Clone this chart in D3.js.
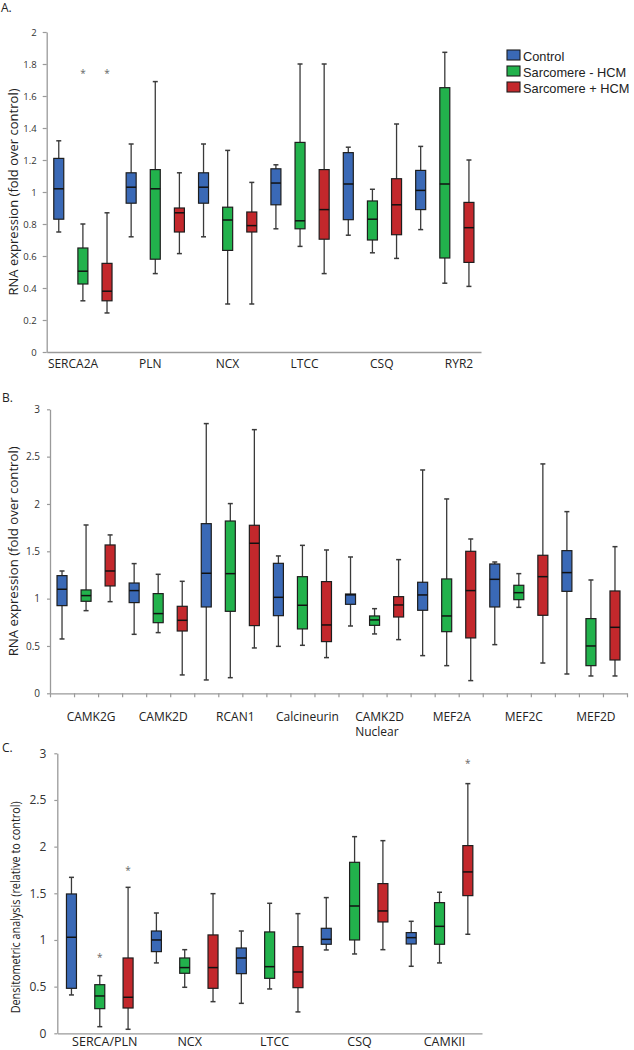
<!DOCTYPE html>
<html><head><meta charset="utf-8">
<script src="https://cdn.jsdelivr.net/npm/d3@7"></script>
<style>body{margin:0;background:#fff}svg{display:block}</style>
</head><body>
<svg id="chart" width="634" height="1050"></svg>
<script>
// ---------- data ----------
const seriesNames = ["Control", "Sarcomere - HCM", "Sarcomere + HCM"];
const seriesColors = ["#3a69b6", "#22b24c", "#c3282c"];

// each entry: [min, q1, median, q3, max]
const aCategories = ["SERCA2A", "PLN", "NCX", "LTCC", "CSQ", "RYR2"];
const aControl = [[0.75,0.83,1.02,1.21,1.32],[0.72,0.93,1.03,1.12,1.30],[0.72,0.93,1.03,1.12,1.30],[0.77,0.92,1.056,1.145,1.17],[0.73,0.827,1.05,1.246,1.28],[0.765,0.89,1.01,1.135,1.285]];
const aSarcNeg = [[0.32,0.425,0.505,0.65,0.80],[0.49,0.58,1.02,1.14,1.69],[0.30,0.635,0.825,0.905,1.26],[0.66,0.77,0.82,1.31,1.80],[0.62,0.70,0.83,0.944,1.017],[0.43,0.5875,1.05,1.652,1.873]];
const aSarcPos = [[0.244,0.32,0.38,0.554,0.87],[0.615,0.75,0.87,0.90,1.12],[0.30,0.75,0.79,0.875,1.06],[0.49,0.705,0.89,1.14,1.80],[0.585,0.733,0.92,1.083,1.425],[0.41,0.56,0.777,0.935,1.20]];
const aStars = [{category:"SERCA2A", series:1, value:1.75},{category:"SERCA2A", series:2, value:1.75}];
const aTicks = [0,0.2,0.4,0.6,0.8,1,1.2,1.4,1.6,1.8,2];

const bCategories = ["CAMK2G", "CAMK2D", "RCAN1", "Calcineurin", "CAMK2D\nNuclear", "MEF2A", "MEF2C", "MEF2D"];
const bControl = [[0.574,0.926,1.099,1.243,1.292],[0.623,0.958,1.085,1.165,1.370],[0.141,0.912,1.268,1.792,2.849],[0.496,0.820,1.014,1.373,1.451],[0.711,0.940,1.04,1.049,1.440],[0.398,0.877,1.039,1.173,2.359],[0.514,0.912,1.204,1.366,1.387],[0.204,1.077,1.275,1.507,1.919]];
const bSarcNeg = [[0.873,0.972,1.032,1.092,1.778],[0.641,0.746,0.842,1.053,1.257],[0.165,0.866,1.264,1.820,2.004],[0.507,0.680,0.930,1.232,1.563],[0.627,0.718,0.775,0.817,0.894],[0.292,0.651,0.817,1.208,2.053],[0.908,0.989,1.063,1.141,1.264],[0.183,0.292,0.500,0.789,1.197]];
const bSarcPos = [[0.968,1.134,1.292,1.567,1.673],[0.194,0.658,0.771,0.919,1.183],[0.479,0.715,1.585,1.775,2.785],[0.377,0.546,0.722,1.180,1.514],[0.567,0.806,0.933,1.021,1.412],[0.134,0.585,1.085,1.500,1.630],[0.320,0.824,1.232,1.458,2.423],[0.183,0.352,0.697,1.081,1.549]];
const bStars = [];
const bTicks = [0,0.5,1,1.5,2,2.5,3];

const cCategories = ["SERCA/PLN", "NCX", "LTCC", "CSQ", "CAMKII"];
const cControl = [[0.411,0.482,1.029,1.493,1.671],[0.754,0.875,1.0,1.096,1.289],[0.321,0.639,0.807,0.914,1.096],[0.893,0.954,1.007,1.125,1.454],[0.718,0.957,1.025,1.079,1.2]];
const cSarcNeg = [[0.071,0.264,0.400,0.521,0.618],[0.493,0.643,0.704,0.807,0.896],[0.475,0.589,0.714,1.086,1.393],[0.85,1.0,1.364,1.832,2.107],[0.754,0.954,1.146,1.4,1.511]];
const cSarcPos = [[0.043,0.271,0.386,0.807,1.564],[0.339,0.482,0.704,1.054,1.496],[0.229,0.489,0.657,0.929,1.282],[0.896,1.193,1.311,1.604,2.064],[1.061,1.475,1.729,2.011,2.675]];
const cStars = [{category:"SERCA/PLN", series:1, value:0.821},{category:"SERCA/PLN", series:2, value:1.757},{category:"CAMKII", series:2, value:2.9}];
const cTicks = [0,0.5,1,1.5,2,2.5,3];

// ---------- drawing ----------
const svg = d3.select("#chart");
const FONT = "'Open Sans', 'DejaVu Sans', sans-serif";

function drawPanel(cfg) {
  const g = svg.append("g");
  const series = cfg.series;
  const nCat = cfg.categories.length, nSer = series.length;
  const slots = d3.range(nCat * nSer);
  const x = d3.scaleBand().domain(slots).range([cfg.x0, cfg.x1]).padding(0);
  const y = d3.scaleLinear().domain([0, cfg.yMax]).range([cfg.yBottom, cfg.yTop]);
  const boxW = 10, capW = 5;

  // y axis
  const yAxis = d3.axisLeft(y).tickValues(cfg.ticks).tickSize(cfg.tickLen).tickSizeOuter(0)
    .tickPadding(cfg.tickPad).tickFormat(d => String(+d.toFixed(1)));
  const ya = g.append("g").attr("transform", `translate(${cfg.x0},0)`).call(yAxis);
  ya.select(".domain").attr("stroke", "#9a9a9a").attr("stroke-width", 1.3);
  ya.selectAll(".tick line").attr("stroke", "#9a9a9a").attr("stroke-width", 1.2);
  ya.selectAll(".tick text").attr("font-family", FONT).attr("font-size", cfg.tickFont).attr("fill", "#333");

  // x axis
  const xl = d3.scaleLinear().domain([0, nCat * nSer]).range([cfg.x0, cfg.x1]);
  const xAxis = d3.axisBottom(xl).tickValues(cfg.xTicks ? d3.range(nCat * nSer + 1) : [])
    .tickSize(cfg.xTicks ? 4 : 0).tickSizeOuter(0).tickFormat("");
  const xa = g.append("g").attr("transform", `translate(0,${cfg.yBottom})`).call(xAxis);
  xa.select(".domain").attr("stroke", "#9a9a9a").attr("stroke-width", 1.3);
  xa.selectAll(".tick line").attr("stroke", "#9a9a9a").attr("stroke-width", 1.2);

  // y title
  const title = g.append("text")
    .attr("transform", `translate(${cfg.titleX},${(cfg.yTop + cfg.yBottom) / 2 + cfg.titleShift}) rotate(-90)`)
    .attr("text-anchor", "middle").attr("font-family", FONT).attr("font-size", cfg.titleFont)
    .attr("fill", "#222").text(cfg.title);
  if (cfg.titleLen) title.attr("textLength", cfg.titleLen).attr("lengthAdjust", "spacingAndGlyphs");

  // panel letter
  g.append("text").attr("x", cfg.letterX).attr("y", cfg.letterY).attr("font-family", FONT)
    .attr("font-size", 12).attr("fill", "#222").text(cfg.letter);

  // boxes
  const rows = [];
  cfg.categories.forEach((c, ci) => series.forEach((s, si) => {
    const [mn, q1, md, q3, mx] = s[ci];
    rows.push({ci, si, mn, q1, md, q3, mx, slot: ci * nSer + si});
  }));
  const bx = g.selectAll("g.box").data(rows).join("g").attr("class", "box")
    .attr("transform", d => `translate(${x(d.slot) + x.bandwidth() / 2},0)`);
  bx.append("line").attr("y1", d => y(d.mn)).attr("y2", d => y(d.mx))
    .attr("stroke", "#3a3a3a").attr("stroke-width", 1.3);
  bx.append("line").attr("x1", -capW / 2).attr("x2", capW / 2).attr("y1", d => y(d.mx)).attr("y2", d => y(d.mx))
    .attr("stroke", "#3a3a3a").attr("stroke-width", 1.5);
  bx.append("line").attr("x1", -capW / 2).attr("x2", capW / 2).attr("y1", d => y(d.mn)).attr("y2", d => y(d.mn))
    .attr("stroke", "#3a3a3a").attr("stroke-width", 1.5);
  bx.append("rect").attr("x", -boxW / 2).attr("width", boxW)
    .attr("y", d => y(d.q3)).attr("height", d => y(d.q1) - y(d.q3))
    .attr("fill", d => seriesColors[d.si]).attr("stroke", "#1e1e1e").attr("stroke-width", 1.2);
  bx.append("line").attr("x1", -boxW / 2).attr("x2", boxW / 2).attr("y1", d => y(d.md)).attr("y2", d => y(d.md))
    .attr("stroke", "#111").attr("stroke-width", 1.5);

  // significance stars
  g.selectAll("text.star").data(cfg.stars).join("text").attr("class", "star")
    .attr("x", d => x(cfg.categories.indexOf(d.category) * nSer + d.series) + x.bandwidth() / 2)
    .attr("y", d => y(d.value) + 4.5)
    .attr("text-anchor", "middle").attr("font-family", FONT).attr("font-size", 10).attr("fill", "#666").text("*");

  // category labels
  const lx = cfg.labelScale ? cfg.labelScale : (c => x(cfg.categories.indexOf(c) * nSer) + x.bandwidth() * nSer / 2 + cfg.labelShift);
  cfg.categories.forEach(c => {
    const lines = c.split("\n");
    const t = g.append("text").attr("x", lx(c)).attr("y", cfg.labelY).attr("text-anchor", "middle")
      .attr("font-family", FONT).attr("font-size", cfg.labelFont).attr("fill", "#222").text(lines[0]);
    if (lines.length > 1) {
      const bb = t.node().getBBox();
      g.append("text").attr("x", bb.x).attr("y", cfg.labelY + cfg.labelFont * 1.25)
        .attr("text-anchor", "start").attr("font-family", FONT).attr("font-size", cfg.labelFont)
        .attr("fill", "#222").text(lines[1]);
    }
  });
}

drawPanel({
  categories: aCategories, series: [aControl, aSarcNeg, aSarcPos], stars: aStars,
  x0: 46.7, x1: 481, yMax: 2, yBottom: 352, yTop: 32, ticks: aTicks,
  tickLen: 4, tickPad: 6, tickFont: 9.5, xTicks: false,
  title: "RNA expression (fold over control)", titleX: 18, titleFont: 12.5, titleShift: 0, titleLen: 207,
  letter: "A.", letterX: 1, letterY: 12,
  labelScale: d3.scalePoint().domain(aCategories).range([73, 459]),
  labelY: 368, labelFont: 12
});

drawPanel({
  categories: bCategories, series: [bControl, bSarcNeg, bSarcPos], stars: bStars,
  x0: 50, x1: 627, yMax: 3, yBottom: 693.3, yTop: 409.3, ticks: bTicks,
  tickLen: 3, tickPad: 7, tickFont: 10, xTicks: true,
  title: "RNA expression (fold over control)", titleX: 18, titleFont: 12.5, titleShift: 0, titleLen: 210,
  letter: "B.", letterX: 2, letterY: 402,
  labelShift: 5, labelY: 721, labelFont: 12
});

drawPanel({
  categories: cCategories, series: [cControl, cSarcNeg, cSarcPos], stars: cStars,
  x0: 57.3, x1: 482, yMax: 3, yBottom: 1033.3, yTop: 753.3, ticks: cTicks,
  tickLen: 3, tickPad: 8, tickFont: 12, xTicks: false,
  title: "Densitometric analysis (relative to control)", titleX: 20, titleFont: 12.5, titleShift: 14, titleLen: 212,
  letter: "C.", letterX: 2, letterY: 752,
  labelShift: 5, labelY: 1045.5, labelFont: 12.5
});

// legend
const legend = svg.append("g").attr("transform", "translate(507,50)");
seriesNames.forEach((n, i) => {
  legend.append("rect").attr("x", 0).attr("y", i * 16).attr("width", 13).attr("height", 10)
    .attr("fill", seriesColors[i]).attr("stroke", "#1e1e1e").attr("stroke-width", 1.1);
  legend.append("text").attr("x", 16).attr("y", i * 16 + 10.5)
    .attr("font-family", "'Liberation Sans', Arial, sans-serif").attr("font-size", 12.8).attr("fill", "#222").text(n);
});
</script>
</body></html>
